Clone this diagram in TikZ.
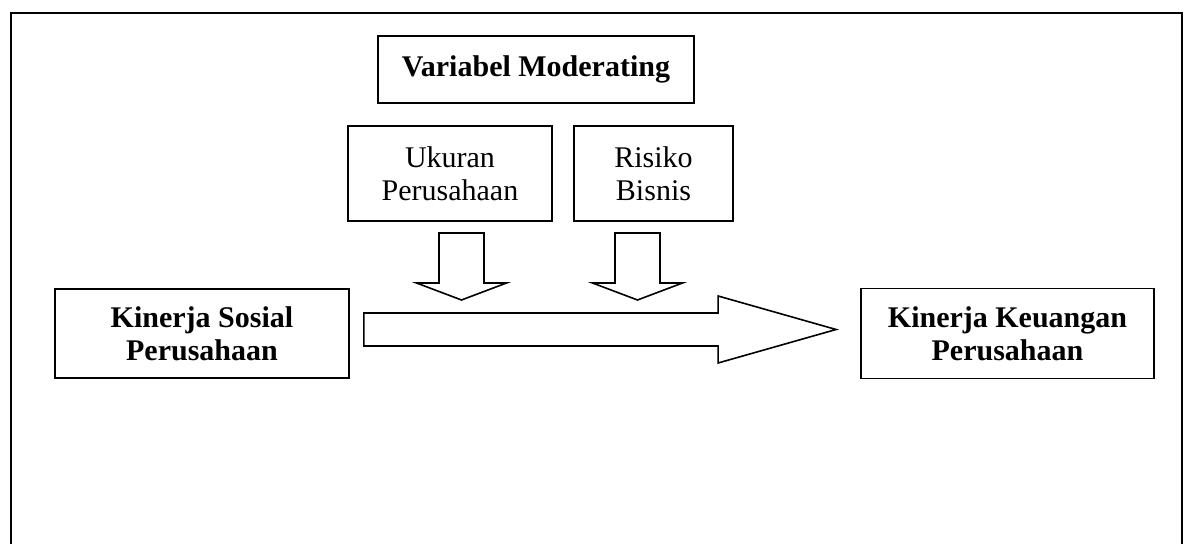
\documentclass[tikz,border=0pt]{standalone}
\usepackage{fontspec}
\setmainfont{Liberation Serif}
\usetikzlibrary{calc}

\begin{document}
\begin{tikzpicture}[x=0.5pt,y=-0.5pt,
    kotak/.style={draw,line width=0.9pt,align=center,inner sep=0pt,
      font=\fontsize{15}{16.5}\selectfont},
    panah/.style={draw,line width=0.8pt,line join=miter}]
    \useasboundingbox (0,0) rectangle (1185,544);
    \draw[line width=1.3pt] (11,560) -- (11,13) -- (1182,13) -- (1182,560);

    \node[kotak,minimum width=158pt,minimum height=33.5pt] (mod) at (536,69.5) {\bfseries Variabel Moderating};
    \node[kotak,minimum width=102pt,minimum height=47.5pt] (ukuran) at (450,173.5) {Ukuran\\Perusahaan};
    \node[kotak,minimum width=79.5pt,minimum height=47.5pt] (risiko) at (653.5,173.5) {Risiko\\Bisnis};

    \node[kotak,minimum width=147pt,minimum height=44.5pt] (sosial) at (202,333.5) {\bfseries Kinerja Sosial\\\bfseries Perusahaan};
    \node[kotak,minimum width=146.5pt,minimum height=45pt] (keuangan) at (1007.5,333.5) {\bfseries Kinerja Keuangan\\\bfseries Perusahaan};

    % panah moderasi
    \coordinate (u) at (461.5,233);
    \coordinate (r) at (637.5,233);
    \foreach \p in {u,r}
      \draw[panah] (\p) ++(-22.5,0) -- ++(0,50) -- ++(-22.5,0) -- ++(45,17) -- ++(45,-17)
        -- ++(-22.5,0) -- ++(0,-50) -- cycle;

    % panah utama
    \coordinate (a) at ($(sosial.east)+(14,-4)$);
    \coordinate (b) at ($(keuangan.west)+(-24,-4)$);
    \draw[panah] ($(a)+(0,-16.5)$) -- ($(b)+(-118,-16.5)$) -- ($(b)+(-118,-33.5)$) -- (b)
      -- ($(b)+(-118,33.5)$) -- ($(b)+(-118,16.5)$) -- ($(a)+(0,16.5)$) -- cycle;

\end{tikzpicture}
\end{document}
